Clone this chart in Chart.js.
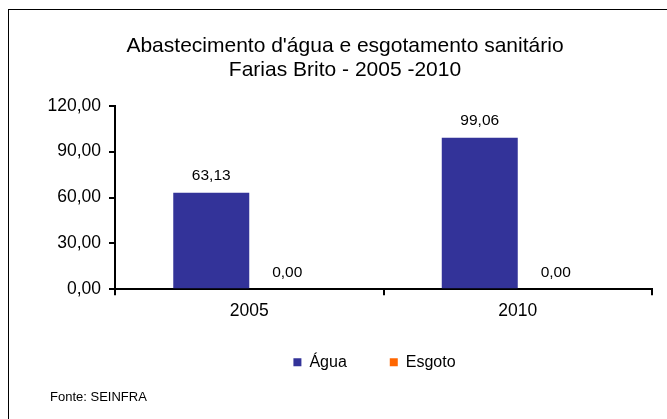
<!DOCTYPE html>
<html lang="pt">
<head>
    <meta charset="UTF-8">
    <title>Abastecimento d'água e esgotamento sanitário</title>
    <style>
        html, body { margin: 0; padding: 0; background: #fff; overflow: hidden; }
        canvas { display: block; }
    </style>
</head>
<body>
    <canvas id="chart" width="667" height="419"></canvas>

    <script src="https://cdn.jsdelivr.net/npm/chart.js"></script>
    <script>
        // Data
        const anos = ['2005', '2010'];
        const agua = [63.13, 99.06];
        const esgoto = [0, 0];
        const yMax = 120;
        const yStep = 30;

        const tituloLinhas = ["Abastecimento d'água e esgotamento sanitário", 'Farias Brito - 2005 -2010'];
        const fonte = 'Fonte: SEINFRA';

        const FONT = "'Liberation Sans', Arial, sans-serif";
        const fmt = v => Number(v).toFixed(2).replace('.', ',');

        Chart.defaults.color = '#000';
        Chart.defaults.font.family = FONT;

        // outer frame + source note
        const frame = {
            id: 'frame',
            beforeDraw(chart) {
                const c = chart.ctx;
                c.save();
                c.strokeStyle = '#000';
                c.lineWidth = 1;
                c.strokeRect(8.5, 9.5, 700, 450);
                c.restore();
            },
            afterDraw(chart) {
                const c = chart.ctx;
                c.save();
                c.font = '13px ' + FONT;
                c.fillStyle = '#000';
                c.textBaseline = 'middle';
                c.fillText(fonte, 50, 397);
                c.restore();
            }
        };

        // value labels above the bars
        const valueLabels = {
            id: 'valueLabels',
            afterDatasetsDraw(chart) {
                const c = chart.ctx;
                c.save();
                c.font = '15.5px ' + FONT;
                c.fillStyle = '#000';
                c.textAlign = 'center';
                c.textBaseline = 'alphabetic';
                chart.data.datasets.forEach((ds, i) => {
                    chart.getDatasetMeta(i).data.forEach((bar, j) => {
                        const p = bar.getProps(['x', 'y'], true);
                        c.fillText(fmt(ds.data[j]), p.x, p.y - 12.6);
                    });
                });
                c.restore();
            }
        };

        // legend sits a bit left and up of where chart.js puts it
        const legendShift = {
            id: 'legendShift',
            afterLayout(chart) {
                const lg = chart.legend;
                lg.left -= 9;
                lg.right -= 9;
                lg.top -= 12;
                lg.bottom -= 12;
            }
        };

        new Chart(document.getElementById('chart'), {
            type: 'bar',
            data: {
                labels: anos,
                datasets: [
                    { label: 'Água', data: agua, backgroundColor: '#333399', borderWidth: 0 },
                    { label: 'Esgoto', data: esgoto, backgroundColor: '#FF6600', borderWidth: 0 }
                ]
            },
            options: {
                responsive: false,
                animation: false,
                events: [],
                datasets: {
                    bar: { categoryPercentage: 0.566, barPercentage: 1.0 }
                },
                layout: {
                    padding: { left: 38, right: 15, top: 34.5, bottom: 35.7 }
                },
                plugins: {
                    title: {
                        display: true,
                        text: tituloLinhas,
                        color: '#000',
                        font: { size: 21, weight: 'normal', lineHeight: '24px' },
                        padding: { top: 0, bottom: 23.2 }
                    },
                    legend: {
                        position: 'bottom',
                        fullSize: false,
                        maxHeight: 60,
                        labels: {
                            boxWidth: 8,
                            boxHeight: 8,
                            padding: 43,
                            color: '#000',
                            font: { size: 16 }
                        }
                    },
                    tooltip: { enabled: false }
                },
                scales: {
                    x: {
                        afterFit(scale) { scale.height = 34; },
                        grid: {
                            drawOnChartArea: false,
                            drawTicks: true,
                            tickLength: 6,
                            color: '#000',
                            lineWidth: 2
                        },
                        border: { display: true, color: '#000', width: 2 },
                        ticks: {
                            padding: 5.5,
                            color: '#000',
                            font: { size: 17.5 }
                        }
                    },
                    y: {
                        min: 0,
                        max: yMax,
                        afterFit(scale) { scale.width = 77; },
                        grid: {
                            drawOnChartArea: false,
                            drawTicks: true,
                            tickLength: 6,
                            color: '#000',
                            lineWidth: 2
                        },
                        border: { display: true, color: '#000', width: 2 },
                        ticks: {
                            stepSize: yStep,
                            padding: 8,
                            color: '#000',
                            font: { size: 17.5 },
                            callback: v => fmt(v)
                        }
                    }
                }
            },
            plugins: [frame, valueLabels, legendShift]
        });
    </script>
</body>
</html>
